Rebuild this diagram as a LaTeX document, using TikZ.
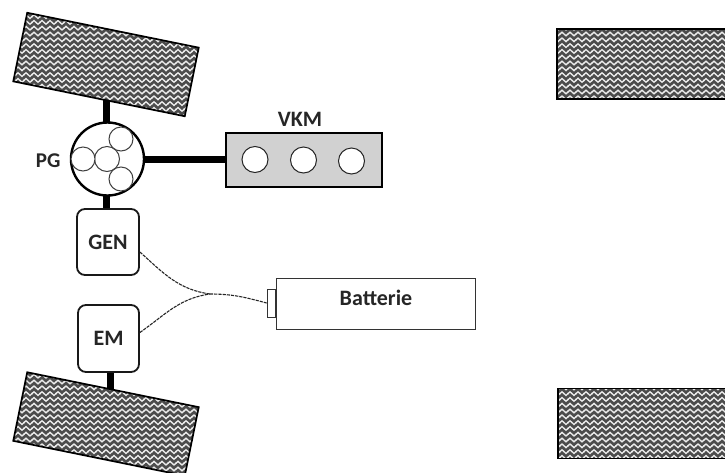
\documentclass[tikz,border=0pt]{standalone}
\usepackage{fontspec}
\setmainfont{Carlito}
\usetikzlibrary{patterns,backgrounds,calc}

% Wavy hatching of the tyres
\pgfdeclarepatternformonly{wavyrows}{\pgfqpoint{-1pt}{-2pt}}{\pgfqpoint{10pt}{8pt}}{\pgfqpoint{8pt}{5.8pt}}{
    \pgfsetlinewidth{1.35pt}
    \pgfsetrectcap
    \pgfpathmoveto{\pgfqpoint{0pt}{3pt}}
    \pgfpathcurveto{\pgfqpoint{1.3pt}{5.4pt}}{\pgfqpoint{2.7pt}{5.4pt}}{\pgfqpoint{4pt}{3pt}}
    \pgfpathcurveto{\pgfqpoint{5.3pt}{0.6pt}}{\pgfqpoint{6.7pt}{0.6pt}}{\pgfqpoint{8pt}{3pt}}
    \pgfusepath{stroke}
}
\tikzset{
    tyre/.style={draw=black,line width=1.7pt,minimum width=175pt,minimum height=70pt,
        preaction={fill=black!70},pattern=wavyrows,pattern color=black!8},
    shaft/.style={black,line width=7pt},
    unitbox/.style={draw=black!90,line width=1.8pt,rounded corners=8pt,fill=white,
        minimum width=62pt,minimum height=66pt,font=\fontsize{22}{24}\selectfont\bfseries,text=black!85},
    gearwheel/.style={circle,draw=black!75,line width=1pt,fill=white,minimum size=#1,inner sep=0pt},
    cylinder/.style={circle,draw=black!85,line width=1pt,fill=white,minimum size=26pt,inner sep=0pt},
    caption/.style={font=\fontsize{22}{24}\selectfont\bfseries,text=black!85},
    cable/.style={dash pattern=on 3.2pt off 1pt,draw=black!85,line width=1.1pt}
}

\begin{document}
\begin{tikzpicture}[x=1pt,y=-1pt]
    \useasboundingbox (0,0) rectangle (725,472);
    \clip (0,0) rectangle (725,472);

    % Tyres
    \node[tyre,rotate=-11.5] (wheelfl) at (106,64.5) {};
    \node[tyre,rotate=-11.5] (wheelrl) at (106,424) {};
    \node[tyre,minimum width=190pt] (wheelfr) at (652,64) {};
    \node[tyre,minimum width=190pt] (wheelrr) at (653,423.5) {};

    % Planetary gear with its wheels
    \node[circle,draw=black,line width=2.4pt,fill=white,minimum size=73pt,inner sep=0pt] (pg) at (107.5,159) {};
    \node[gearwheel=25pt] (sun) at (107,159) {};
    \node[gearwheel=24pt] (planeta) at (83,159) {};
    \node[gearwheel=24pt] (planetb) at (121,139) {};
    \node[gearwheel=24pt] (planetc) at (121,179) {};
    \node[caption,anchor=east,font=\fontsize{21}{24}\selectfont\bfseries] (pglabel) at (64,161) {PG};

    % Combustion engine
    \node[draw=black,line width=1.8pt,fill=black!18,minimum width=156pt,minimum height=54pt] (vkm) at (304,160) {};
    \node[cylinder] (cyla) at (255,159.5) {};
    \node[cylinder] (cylb) at (303.5,160) {};
    \node[cylinder] (cylc) at (351.5,161) {};
    \node[caption] (vkmlabel) at (300,119) {VKM};

    % Generator and motor
    \node[unitbox] (gen) at (108,242) {GEN};
    \node[unitbox,minimum width=61pt,minimum height=67pt] (em) at (108.5,338.5) {EM};

    % Battery
    \node[draw=black!80,line width=0.9pt,fill=white,minimum width=199pt,minimum height=51pt] (bat) at (375.5,303.5) {};
    \node[caption] (batlabel) at (376,298) {Batterie};
    \node[draw=black!80,line width=0.9pt,fill=white,minimum width=8pt,minimum height=28pt,anchor=east] (pole) at (bat.west |- 0,303) {};

    % Shafts
    \begin{scope}[on background layer]
        \draw[shaft] (wheelfl.center) -- (wheelfl.center |- pg.center);
        \draw[shaft] (pg.center -| wheelfl.center) -- (gen.center -| wheelfl.center);
        \draw[shaft] (pg.center) -- (vkm.center |- pg.center);
        \draw[shaft] ($(em.center)+(1.5,0)$) -- ($(wheelrl.center -| em.center)+(1.5,0)$);
    \end{scope}

    % Cables
    \coordinate (genport) at ($(gen.east)+(0,10)$);
    \coordinate (emport) at ($(em.east)+(0,-6)$);
    \coordinate (joint) at (210,294);
    \draw[cable] (genport) to[out=-42,in=172] (joint);
    \draw[cable] (emport) to[out=35,in=188] (joint);
    \draw[cable] (joint) to[out=0,in=165] (pole.west);
\end{tikzpicture}
\end{document}
